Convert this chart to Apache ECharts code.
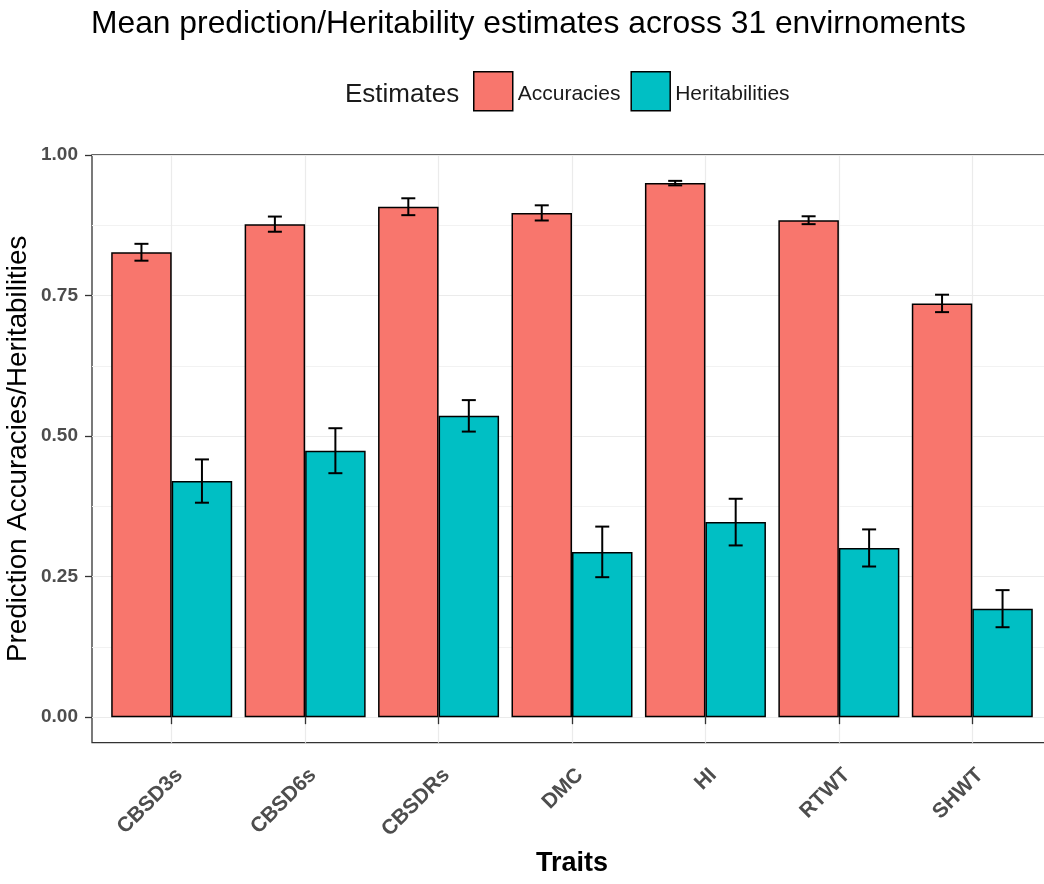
<!DOCTYPE html>
<html>
<head>
<meta charset="utf-8">
<script src="https://cdn.jsdelivr.net/npm/echarts@6/dist/echarts.min.js"></script>
<style>
  html, body { margin: 0; padding: 0; background: #ffffff; }
  #chart { width: 1044px; height: 884px; }
</style>
</head>
<body>
<div id="chart"></div>
<script>
// Traits on the x axis
const traits = ['CBSD3s', 'CBSD6s', 'CBSDRs', 'DMC', 'HI', 'RTWT', 'SHWT'];

// Mean prediction accuracy per trait and its standard error
const accuracies = [0.827, 0.877, 0.908, 0.897, 0.950, 0.884, 0.736];
const accuracySE = [0.015, 0.0135, 0.015, 0.0135, 0.004, 0.007, 0.0155];

// Mean heritability per trait and its standard error
const heritabilities = [0.420, 0.474, 0.536, 0.294, 0.347, 0.301, 0.193];
const heritabilitySE = [0.0385, 0.040, 0.028, 0.045, 0.0415, 0.033, 0.033];

// Y axis breaks
const yBreaks = [0, 0.25, 0.5, 0.75, 1.0];
const yMinorBreaks = [0.125, 0.375, 0.625, 0.875];

const FONT = '"Liberation Sans", Arial, sans-serif';
const Y_MIN = -0.0454, Y_MAX = 1.0;
const BAR_W = 60.5;

function errorBarSeries(means, ses, dodge) {
  return {
    type: 'custom',
    xAxisIndex: 1,
    yAxisIndex: 2,
    z: 5,
    silent: true,
    encode: { x: 0, y: [1, 2] },
    data: means.map((m, i) => [i, m - ses[i], m + ses[i]]),
    renderItem: function (params, api) {
      const lo = api.coord([api.value(0), api.value(1)]);
      const hi = api.coord([api.value(0), api.value(2)]);
      const x = lo[0] + dodge;
      const hw = 7;
      const style = { stroke: '#000', lineWidth: 2, fill: null };
      return {
        type: 'group',
        children: [
          { type: 'line', shape: { x1: x, y1: lo[1], x2: x, y2: hi[1] }, style },
          { type: 'line', shape: { x1: x - hw, y1: lo[1], x2: x + hw, y2: lo[1] }, style },
          { type: 'line', shape: { x1: x - hw, y1: hi[1], x2: x + hw, y2: hi[1] }, style }
        ]
      };
    }
  };
}

const chart = echarts.init(document.getElementById('chart'), null, { renderer: 'canvas' });

chart.setOption({
  backgroundColor: '#ffffff',
  animation: false,
  textStyle: { fontFamily: FONT },
  title: {
    text: 'Mean prediction/Heritability estimates across 31 envirnoments',
    left: 91,
    top: 8,
    padding: 0,
    textStyle: { fontFamily: FONT, fontSize: 31.8, fontWeight: 'normal', color: '#000' }
  },
  legend: {
    data: ['Accuracies', 'Heritabilities'],
    left: 473,
    top: 71,
    padding: 0,
    itemWidth: 39,
    itemHeight: 39,
    itemGap: 10,
    icon: 'rect',
    itemStyle: { borderColor: '#000', borderWidth: 1.5 },
    formatter: '{t|{name}}',
    textStyle: {
      fontFamily: FONT, fontSize: 21, color: '#1a1a1a',
      rich: { t: { fontFamily: FONT, fontSize: 21, color: '#1a1a1a', padding: [6, 0, 0, 0] } }
    }
  },
  graphic: [{
    type: 'text',
    left: 345,
    top: 82,
    style: { text: 'Estimates', font: '26px ' + FONT, fill: '#1a1a1a' }
  }],
  grid: [
    // panel frame, y axis and horizontal grid lines
    { left: 92, top: 155, width: 960.3, height: 587.7, show: true, outerBoundsMode: 'none',
      containLabel: false, borderColor: '#333333', borderWidth: 1.3, backgroundColor: 'transparent' },
    // category placement for the bars
    { left: 171.7, top: 155, width: 800.6, height: 587.7, outerBoundsMode: 'none', containLabel: false }
  ],
  xAxis: [
    { gridIndex: 0, type: 'value', min: 0, max: 1, show: false },
    {
      gridIndex: 1,
      type: 'category',
      data: traits,
      boundaryGap: false,
      name: 'Traits',
      nameLocation: 'middle',
      nameGap: 107,
      nameMoveOverlap: false,
      nameTextStyle: { fontFamily: FONT, fontSize: 27, fontWeight: 'bold', color: '#000' },
      axisLine: { show: false },
      axisTick: { show: true, length: 7, lineStyle: { color: '#333333', width: 1.3 } },
      axisLabel: {
        rotate: 45,
        margin: 37,
        interval: 0,
        padding: [0, -11, 0, 0],
        fontFamily: FONT,
        fontSize: 21,
        fontWeight: 'bold',
        color: '#4D4D4D'
      },
      splitLine: { show: true, lineStyle: { color: '#EBEBEB', width: 1.2 } }
    }
  ],
  yAxis: [
    {
      gridIndex: 0,
      type: 'value',
      min: Y_MIN,
      max: Y_MAX,
      name: 'Prediction Accuracies/Heritabilities',
      nameLocation: 'middle',
      nameRotate: 90,
      nameGap: 60,
      nameMoveOverlap: false,
      nameTextStyle: { fontFamily: FONT, fontSize: 27.8, color: '#000' },
      axisLine: { show: false },
      axisTick: { show: true, length: 7, customValues: yBreaks,
        lineStyle: { color: '#333333', width: 1.3 } },
      axisLabel: {
        customValues: yBreaks,
        margin: 14,
        fontFamily: FONT,
        fontSize: 19,
        fontWeight: 'bold',
        color: '#4D4D4D',
        formatter: v => v.toFixed(2)
      },
      splitLine: { show: true, lineStyle: { color: '#EBEBEB', width: 1.2 } }
    },
    {
      gridIndex: 0,
      type: 'value',
      min: Y_MIN,
      max: Y_MAX,
      axisLine: { show: false },
      axisTick: { show: false, customValues: yMinorBreaks },
      axisLabel: { show: false, customValues: yMinorBreaks },
      splitLine: { show: true, lineStyle: { color: '#F2F2F2', width: 1 } }
    },
    { gridIndex: 1, type: 'value', min: Y_MIN, max: Y_MAX, show: false }
  ],
  series: [
    {
      name: 'Accuracies',
      type: 'bar',
      xAxisIndex: 1,
      yAxisIndex: 2,
      data: accuracies,
      barWidth: BAR_W,
      barGap: '0%',
      clip: false,
      itemStyle: { color: '#F8766D', borderColor: '#000', borderWidth: 1.5 }
    },
    {
      name: 'Heritabilities',
      type: 'bar',
      xAxisIndex: 1,
      yAxisIndex: 2,
      data: heritabilities,
      barWidth: BAR_W,
      barGap: '0%',
      clip: false,
      itemStyle: { color: '#00BFC4', borderColor: '#000', borderWidth: 1.5 }
    },
    errorBarSeries(accuracies, accuracySE, -BAR_W / 2),
    errorBarSeries(heritabilities, heritabilitySE, BAR_W / 2)
  ]
});
</script>
</body>
</html>
